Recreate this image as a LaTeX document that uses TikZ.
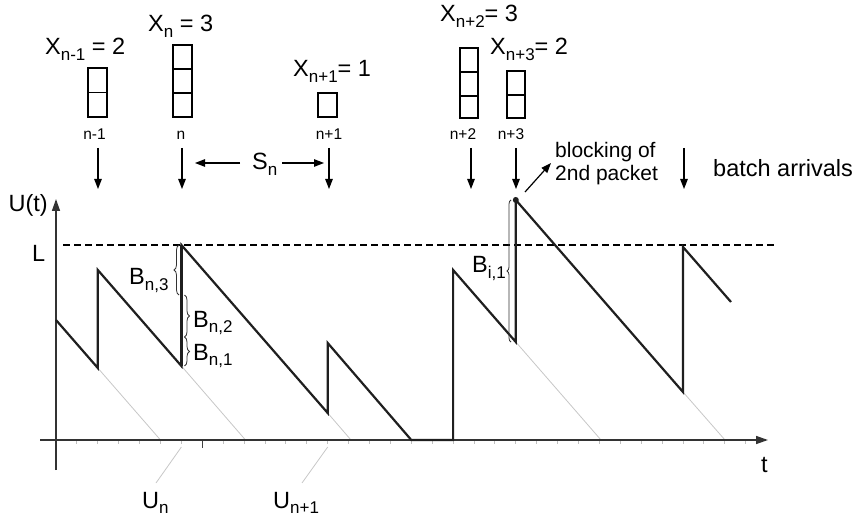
\documentclass[tikz,border=0pt]{standalone}
\usepackage{fontspec}
\setmainfont{Liberation Sans}
\usetikzlibrary{arrows.meta,decorations.pathreplacing}
\newcommand\bigf{\fontsize{23.5}{26}\selectfont}
\newcommand\smf{\fontsize{15.5}{17}\selectfont}
\newcommand\blf{\fontsize{21}{23}\selectfont}
\newcommand\lo[1]{\raisebox{-5.5pt}{\fontsize{17}{17}\selectfont #1}}
\begin{document}
\begin{tikzpicture}[x=1pt,y=-1pt,
  saw/.style={line width=2.2pt,draw=black!88,line join=miter},
  thinline/.style={line width=0.8pt,draw=black!22},
  tickmark/.style={line width=0.9pt,draw=black!25},
  axisline/.style={line width=1.5pt,draw=black!80},
  arr/.style={line width=1.2pt,-{Triangle[length=10pt,width=7.5pt]}},
  box/.style={line width=1.3pt},
  lbl/.style={inner sep=0pt,font=\bigf},
  small/.style={inner sep=0pt,font=\smf},
  brc/.style={decorate,decoration={brace,amplitude=5pt},line width=0.8pt,draw=black!80}]
\useasboundingbox (0,0) rectangle (856,518);
% sawtooth points
\coordinate (p0) at (56,320);
\coordinate (p1) at (97.8,368);
\coordinate (p2) at (97.8,270);
\coordinate (p3) at (181.4,366);
\coordinate (p4) at (181.4,245);
\coordinate (p5) at (327.7,413);
\coordinate (p6) at (327.7,343);
\coordinate (p7) at (411.3,440);
\coordinate (p8) at (453.1,440);
\coordinate (p9) at (453.1,270);
\coordinate (p10) at (515.8,342);
\coordinate (p11) at (515.8,200);
\coordinate (p12) at (683,392);
\coordinate (p13) at (683,247);
\coordinate (p14) at (731,302);
% axis ends
\coordinate (hx0) at (40,440);
\coordinate (hx1) at (768,440);
\coordinate (vy0) at (56,470);
\coordinate (vy1) at (56,199);
% ticks
\foreach \k in {1,...,33} \draw[tickmark] ({56+20.9*\k},440) -- ++(0,4);
\draw[line width=1pt,draw=black!75] (202.3,440) -- (202.3,448);
% gray continuation lines
\coordinate (g1) at (160.5,440);
\coordinate (g2) at (245.5,440);
\coordinate (g3) at (351,440);
\coordinate (g4) at (601,440);
\coordinate (g5) at (725,440);
\draw[thinline] (p1) -- (g1);
\draw[thinline] (p3) -- (g2);
\draw[thinline] (p5) -- (g3);
\draw[thinline] (p10) -- (g4);
\draw[thinline] (p12) -- (g5);
\coordinate (un0) at (181.4,447);
\coordinate (un1) at (156,483);
\coordinate (uu0) at (327.7,447);
\coordinate (uu1) at (302,483);
\draw[thinline] (un0) -- (un1);
\draw[thinline] (uu0) -- (uu1);
% axes
\draw[axisline,-{Triangle[length=12pt,width=8pt]}] (hx0) -- (hx1);
\draw[axisline,-{Triangle[length=12pt,width=8pt]}] (vy0) -- (vy1);
% L level
\coordinate (d0) at (63,245);
\coordinate (d1) at (777,245);
\draw[line width=1.2pt,dash pattern=on 7pt off 4pt] (d0) -- (d1);
% sawtooth
\draw[saw] (p0) -- (p1) -- (p2) -- (p3) -- (p4) -- (p5) -- (p6) -- (p7) -- (p8) -- (p9) -- (p10) -- (p11) -- (p12) -- (p13) -- (p14);
\draw[line width=3pt,draw=black!88] (p3) -- (p4);
\fill[black!88] (p11) circle (3);
% braces
\draw[brc,decoration={mirror}] (179,245) -- (179,295);
\draw[brc] (184.5,295) -- (184.5,337);
\draw[brc] (184.5,337) -- (184.5,366);
\draw[brc,decoration={mirror,amplitude=4pt}] (511,200) -- (511,342);
% boxes
\draw[box] (88,68) rectangle (107,117); \draw[box] (88,92.5) -- (107,92.5);
\draw[box] (173,45) rectangle (192,117); \draw[box] (173,69) -- (192,69); \draw[box] (173,93) -- (192,93);
\draw[box] (318,93) rectangle (337,117);
\draw[box] (460,48) rectangle (478,118); \draw[box] (460,72) -- (478,72); \draw[box] (460,96) -- (478,96);
\draw[box] (507,71) rectangle (525,118); \draw[box] (507,95) -- (525,95);
% arrival arrows
\coordinate (a1s) at (98,148); \coordinate (a1e) at (98,189);
\coordinate (a2s) at (182,148); \coordinate (a2e) at (182,189);
\coordinate (a3s) at (329,148); \coordinate (a3e) at (329,189);
\coordinate (a4s) at (471,148); \coordinate (a4e) at (471,189);
\coordinate (a5s) at (516,148); \coordinate (a5e) at (516,189);
\coordinate (a6s) at (684,148); \coordinate (a6e) at (684,189);
\draw[arr] (a1s) -- (a1e);
\draw[arr] (a2s) -- (a2e);
\draw[arr] (a3s) -- (a3e);
\draw[arr] (a4s) -- (a4e);
\draw[arr] (a5s) -- (a5e);
\draw[arr] (a6s) -- (a6e);
% S_n arrows
\coordinate (s1) at (240,163); \coordinate (s1e) at (195,163);
\coordinate (s2) at (282,163); \coordinate (s2e) at (324,163);
\draw[arr] (s1) -- (s1e);
\draw[arr] (s2) -- (s2e);
% blocking arrow
\coordinate (bk0) at (525,192); \coordinate (bk1) at (551,163);
\draw[arr] (bk0) -- (bk1);
% labels
\node[lbl,anchor=base west] (xa) at (45,55) {X\lo{n-1} = 2};
\node[lbl,anchor=base west] (xb) at (148,32) {X\lo{n} = 3};
\node[lbl,anchor=base west] (xc) at (293,77) {X\lo{n+1}= 1};
\node[lbl,anchor=base west] (xd) at (440,22) {X\lo{n+2}= 3};
\node[lbl,anchor=base west] (xe) at (490,55) {X\lo{n+3}= 2};
\node[small,anchor=base] (na) at (94.5,140) {n-1};
\node[small,anchor=base] (nb) at (181,140) {n};
\node[small,anchor=base] (nc) at (329,140) {n+1};
\node[small,anchor=base] (nd) at (463,140) {n+2};
\node[small,anchor=base] (ne) at (511,140) {n+3};
\node[lbl,anchor=base west] (sn) at (252,170) {S\lo{n}};
\node[lbl,anchor=base west] (blk1) at (555,158) {\blf blocking of};
\node[lbl,anchor=base west] (blk2) at (555,181) {\blf 2nd packet};
\node[lbl,anchor=base west] (ba) at (713,177) {batch arrivals};
\node[lbl,anchor=base east] (ut) at (48,212) {U(t)};
\node[lbl,anchor=base west] (ll) at (32,262) {L};
\node[lbl,anchor=base west] (bn3) at (129,285) {B\lo{n,3}};
\node[lbl,anchor=base west] (bn2) at (193,327) {B\lo{n,2}};
\node[lbl,anchor=base west] (bn1) at (193,360) {B\lo{n,1}};
\node[lbl,anchor=base west] (bi1) at (472,273) {B\lo{i,1}};
\node[lbl,anchor=base west] (un) at (142,508) {U\lo{n}};
\node[lbl,anchor=base west] (unp) at (273,508) {U\lo{n+1}};
\node[lbl,anchor=base west] (tt) at (761,472) {t};
\end{tikzpicture}
\end{document}
